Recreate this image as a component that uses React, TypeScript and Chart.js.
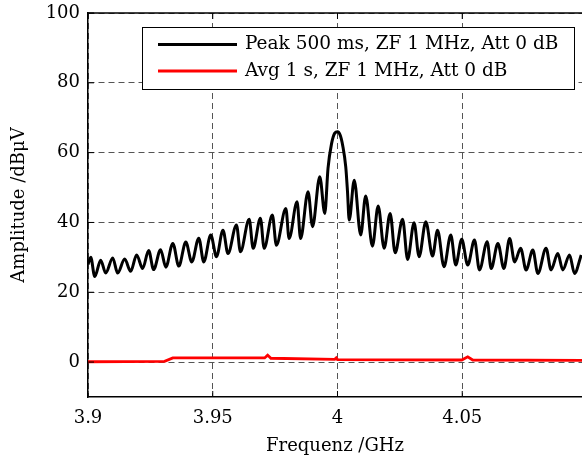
import React, { useEffect, useRef } from "react";
import { Chart, registerables } from "chart.js";

Chart.register(...registerables);

// Peak detector trace (frequency in GHz, amplitude in dBµV)
const peakFreq = [
  3.9, 3.9011, 3.9027, 3.9051, 3.9071, 3.9099, 3.9119, 3.9147, 3.9171, 3.9195,
  3.9219, 3.9243, 3.9263, 3.9291, 3.9312, 3.934, 3.9364, 3.9392, 3.9416, 3.9444,
  3.9464, 3.9492, 3.9515, 3.9541, 3.9561, 3.9595, 3.9611, 3.9646, 3.9662, 3.9691,
  3.9706, 3.9739, 3.9755, 3.9793, 3.9806, 3.9838, 3.9852, 3.9882, 3.99, 3.9929,
  3.9949, 3.9962, 3.9976, 3.9989, 4.0, 4.0011, 4.0021, 4.0033, 4.004, 4.0047,
  4.0067, 4.0093, 4.0113, 4.014, 4.0163, 4.0187, 4.0211, 4.0231, 4.0261, 4.0281,
  4.0307, 4.0327, 4.0354, 4.0381, 4.0401, 4.0427, 4.0454, 4.0474, 4.0498, 4.0522,
  4.0549, 4.0569, 4.06, 4.0616, 4.0643, 4.0667, 4.069, 4.071, 4.0734, 4.0756,
  4.0783, 4.0803, 4.0836, 4.0856, 4.0883, 4.0903, 4.093, 4.095, 4.0977,
];
const peakAmp = [
  28, 30, 24.5, 29.2, 25.5, 29.8, 25.5, 29.5, 26, 30.7,
  26.8, 32, 26.5, 32.2, 27.2, 34, 27.5, 34.4, 28.7, 35.5,
  28.7, 36.4, 30.2, 37.8, 31.1, 39.3, 31.6, 40.9, 32.6, 41.2,
  32.6, 42.1, 33.5, 44, 35.4, 45.9, 35.4, 48.8, 38.8, 53.1,
  42.6, 55.5, 62.5, 65.6, 66, 65, 62, 56, 49, 40.7,
  52.1, 36.4, 47.6, 33.2, 44.7, 32.6, 42.6, 31.3, 40.9, 29.4,
  39.9, 30.2, 40.2, 30.4, 37.8, 27.3, 36.4, 27.8, 35.2, 27.8,
  35, 26.4, 34.5, 26.8, 34, 26.8, 35.4, 28.7, 32.6, 26.4,
  32.1, 25.4, 32.6, 26.4, 31.1, 26.4, 30.7, 25.4, 30.7,
];

// Average detector trace
const avgFreq = [3.9, 3.9307, 3.934, 3.9708, 3.972, 3.9733, 3.9989, 3.9995, 4.0, 4.0498, 4.0522, 4.0542, 4.098];
const avgAmp = [0.1, 0.2, 1.2, 1.2, 2.0, 1.1, 0.8, 1.2, 0.7, 0.6, 1.5, 0.6, 0.5];

const xTickValues = [3.9, 3.95, 4, 4.05];
const xTickLabels = ["3.9", "3.95", "4", "4.05"];
const yTickValues = [0, 20, 40, 60, 80, 100];
const seriesLabels = ["Peak 500 ms, ZF 1 MHz, Att 0 dB", "Avg 1 s, ZF 1 MHz, Att 0 dB"];
const seriesColors = ["#000000", "#ff0000"];
const xTitle = "Frequenz /GHz";
const yTitle = "Amplitude /dBμV";

const FONT = "'DejaVu Serif', serif";

const framePlugin = {
  id: "frameAndLegend",
  afterDraw(chart: any) {
    const { ctx, chartArea } = chart;
    const { left, right, top, bottom } = chartArea;
    const xs = chart.scales.x;
    const ys = chart.scales.y;
    ctx.save();
    ctx.setLineDash([]);
    ctx.strokeStyle = "#000";
    ctx.lineWidth = 1.5;
    ctx.beginPath();
    ctx.moveTo(left, top);
    ctx.lineTo(right, top);
    ctx.stroke();
    ctx.lineWidth = 1;
    ctx.beginPath();
    xs.ticks.forEach((t: any) => {
      const px = xs.getPixelForValue(t.value);
      ctx.moveTo(px, bottom);
      ctx.lineTo(px, bottom - 6);
      ctx.moveTo(px, top);
      ctx.lineTo(px, top + 6);
    });
    ys.ticks.forEach((t: any) => {
      const py = ys.getPixelForValue(t.value);
      ctx.moveTo(left, py);
      ctx.lineTo(left + 6, py);
    });
    ctx.stroke();

    // legend box
    const bx = 142.5, by = 27.5, bw = 432, bh = 62;
    ctx.fillStyle = "#fff";
    ctx.fillRect(bx, by, bw, bh);
    ctx.strokeStyle = "#000";
    ctx.lineWidth = 1;
    ctx.strokeRect(bx, by, bw, bh);
    ctx.font = `18.5px ${FONT}`;
    ctx.textBaseline = "middle";
    ctx.textAlign = "left";
    seriesLabels.forEach((lab, i) => {
      const ly = 44.5 + i * 26.5;
      ctx.strokeStyle = seriesColors[i];
      ctx.lineWidth = 2.8;
      ctx.beginPath();
      ctx.moveTo(158, ly);
      ctx.lineTo(237, ly);
      ctx.stroke();
      ctx.fillStyle = "#000";
      ctx.fillText(lab, 245, ly);
    });
    ctx.restore();
  },
};

export default function App() {
  const canvasRef = useRef<HTMLCanvasElement | null>(null);

  useEffect(() => {
    if (!canvasRef.current) return;
    const peakData = peakFreq.map((f, i) => ({ x: f, y: peakAmp[i] }));
    const avgData = avgFreq.map((f, i) => ({ x: f, y: avgAmp[i] }));
    const chart = new Chart(canvasRef.current, {
      type: "line",
      data: {
        datasets: [
          {
            label: seriesLabels[0],
            data: peakData,
            borderColor: seriesColors[0],
            borderWidth: 3,
            pointRadius: 0,
            cubicInterpolationMode: "monotone",
            fill: false,
          },
          {
            label: seriesLabels[1],
            data: avgData,
            borderColor: seriesColors[1],
            borderWidth: 2.8,
            pointRadius: 0,
            tension: 0,
            fill: false,
          },
        ],
      },
      options: {
        animation: false,
        responsive: true,
        maintainAspectRatio: false,
        layout: { padding: { top: 13, left: 0, right: 0, bottom: 0 } },
        plugins: {
          legend: { display: false },
          tooltip: { enabled: false },
        },
        scales: {
          x: {
            type: "linear",
            min: 3.9,
            max: 4.098,
            afterBuildTicks: (scale: any) => {
              scale.ticks = xTickValues.map((v) => ({ value: v }));
            },
            afterFit: (scale: any) => {
              scale.height = 63;
              scale.paddingLeft = 0;
              scale.paddingRight = 0;
            },
            ticks: {
              padding: 11,
              color: "#000",
              font: { family: FONT, size: 18 },
              maxRotation: 0,
              autoSkip: false,
              callback: (v: any) => {
                const idx = xTickValues.findIndex((t) => Math.abs(t - v) < 1e-9);
                return idx >= 0 ? xTickLabels[idx] : "";
              },
            },
            grid: { color: "#555", lineWidth: 1, drawTicks: false },
            border: { display: true, color: "#000", width: 1.5, dash: [6, 4] },
            title: {
              display: true,
              text: xTitle,
              color: "#000",
              font: { family: FONT, size: 18 },
              padding: { top: 0, bottom: 3 },
            },
          },
          y: {
            type: "linear",
            min: -10,
            max: 100,
            afterBuildTicks: (scale: any) => {
              scale.ticks = yTickValues.map((v) => ({ value: v }));
            },
            afterFit: (scale: any) => {
              scale.width = 88;
              scale.paddingTop = 0;
              scale.paddingBottom = 0;
            },
            ticks: {
              padding: 8,
              color: "#000",
              font: { family: FONT, size: 18 },
              autoSkip: false,
              callback: (v: any) => String(v),
            },
            grid: { color: "#555", lineWidth: 1, drawTicks: false },
            border: { display: true, color: "#000", width: 1.5, dash: [6, 4] },
            title: {
              display: true,
              text: yTitle,
              color: "#000",
              font: { family: FONT, size: 18 },
              padding: { top: 9, bottom: 0 },
            },
          },
        },
      },
      plugins: [framePlugin],
    });
    return () => chart.destroy();
  }, []);

  return (
    <div style={{ position: "fixed", left: 0, top: 0, width: 582, height: 460, background: "#fff" }}>
      <canvas ref={canvasRef} />
    </div>
  );
}
